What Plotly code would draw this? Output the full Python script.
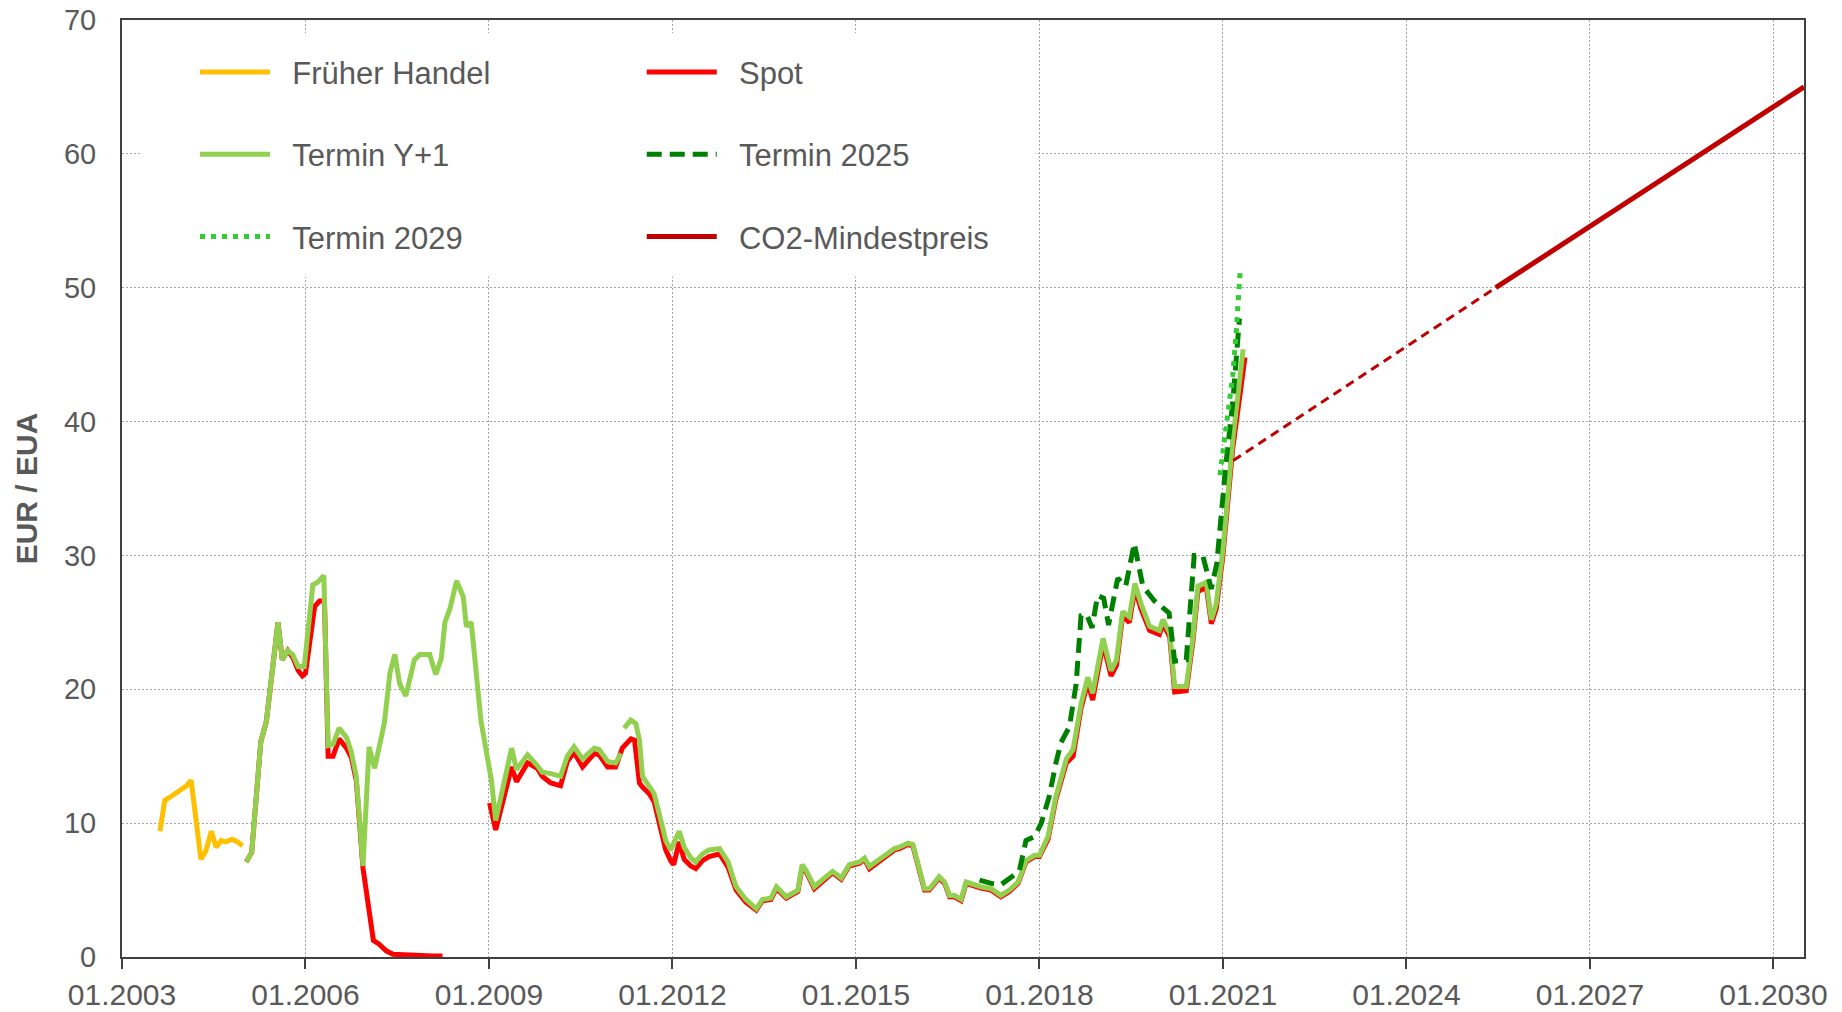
import plotly.graph_objects as go

# ---------------- data (decimal years, EUR/EUA) ----------------
early_x = [2003.62, 2003.70, 2003.77, 2003.99, 2004.06, 2004.13, 2004.21, 2004.29, 2004.37,
           2004.46, 2004.54, 2004.62, 2004.70, 2004.80, 2004.89, 2004.97]
early_y = [9.4, 11.7, 11.9, 12.6, 12.8, 13.2, 10.0, 7.3, 7.9,
           9.4, 8.2, 8.7, 8.6, 8.8, 8.6, 8.3]

yp1_x = [2005.03, 2005.12, 2005.27, 2005.36, 2005.55, 2005.62, 2005.71, 2005.79, 2005.88, 2005.98,
         2006.12, 2006.20, 2006.30, 2006.37, 2006.45, 2006.55, 2006.67, 2006.75, 2006.83, 2006.94,
         2007.04, 2007.13, 2007.29, 2007.38, 2007.46, 2007.54, 2007.64, 2007.78, 2007.87, 2008.03,
         2008.13, 2008.22, 2008.28, 2008.36, 2008.47, 2008.58, 2008.63, 2008.71, 2008.87, 2009.04,
         2009.11, 2009.37, 2009.45, 2009.63, 2009.79, 2009.87, 2010.01, 2010.17, 2010.28, 2010.39,
         2010.53, 2010.72, 2010.80, 2010.94, 2011.07, 2011.16, 2011.185,
         2011.21, 2011.32, 2011.40, 2011.46, 2011.51, 2011.62, 2011.70, 2011.81, 2011.89, 2011.97,
         2012.11, 2012.19, 2012.30, 2012.38, 2012.49, 2012.60, 2012.77, 2012.91, 2013.04, 2013.20,
         2013.37, 2013.47, 2013.61, 2013.70, 2013.86, 2014.05, 2014.12, 2014.18, 2014.32, 2014.51,
         2014.62, 2014.76, 2014.89, 2015.06, 2015.14, 2015.22, 2015.36, 2015.47, 2015.63, 2015.71,
         2015.85, 2015.93, 2016.01, 2016.12, 2016.20, 2016.36, 2016.45, 2016.53, 2016.61, 2016.72,
         2016.80, 2016.91, 2017.04, 2017.21, 2017.37, 2017.51, 2017.65, 2017.78, 2017.92, 2018.00,
         2018.14, 2018.27, 2018.44, 2018.55, 2018.68, 2018.79, 2018.87, 2019.04, 2019.17, 2019.26,
         2019.36, 2019.47, 2019.56, 2019.66, 2019.80, 2019.96, 2020.02, 2020.13, 2020.21, 2020.40,
         2020.51, 2020.59, 2020.73, 2020.81, 2020.89, 2021.00, 2021.16, 2021.33]
yp1_y = [7.1, 7.8, 16.1, 17.6, 25.0, 22.2, 22.9, 22.6, 21.7, 21.7,
         27.8, 28.0, 28.5, 15.8, 15.9, 17.1, 16.4, 15.3, 13.5, 6.8,
         15.7, 14.1, 17.5, 21.2, 22.6, 20.4, 19.5, 22.2, 22.6, 22.6,
         21.1, 22.3, 25.0, 26.0, 28.1, 26.9, 24.7, 25.0, 17.6, 13.2,
         10.2, 15.6, 14.0, 15.1, 14.3, 13.8, 13.7, 13.5, 15.0, 15.7,
         14.8, 15.6, 15.5, 14.6, 14.5, 15.2, None,
         17.1, 17.7, 17.45, 16.2, 13.5, 12.7, 12.2, 10.2, 8.7, 8.0,
         9.4, 8.2, 7.4, 7.1, 7.7, 8.0, 8.1, 7.1, 5.25, 4.3,
         3.6, 4.3, 4.4, 5.25, 4.5, 5.0, 6.9, 6.5, 5.25, 6.0,
         6.4, 5.9, 6.9, 7.1, 7.4, 6.75, 7.2, 7.6, 8.1, 8.2,
         8.5, 8.4, 7.1, 5.1, 5.1, 6.0, 5.6, 4.6, 4.6, 4.3,
         5.6, 5.4, 5.25, 5.1, 4.6, 5.0, 5.6, 7.2, 7.6, 7.6,
         9.0, 12.0, 14.8, 15.5, 18.9, 20.9, 19.7, 23.8, 21.4, 22.2,
         25.8, 25.4, 27.9, 26.4, 24.7, 24.4, 25.2, 24.2, 20.2, 20.2,
         23.9, 27.7, 28.0, 25.2, 26.4, 30.4, 38.6, 45.4]

spot_x = [2005.03, 2005.12, 2005.27, 2005.36, 2005.55, 2005.62, 2005.71, 2005.79, 2005.88, 2005.95,
          2006.00, 2006.15, 2006.23, 2006.31, 2006.37, 2006.45, 2006.55, 2006.67, 2006.75, 2006.83,
          2006.94, 2007.05, 2007.11, 2007.20, 2007.32, 2007.43, 2007.65, 2007.87, 2008.08, 2008.24,
          2008.60,
          2009.01, 2009.11, 2009.37, 2009.45, 2009.63, 2009.79, 2009.87, 2010.01, 2010.17, 2010.28,
          2010.39, 2010.53, 2010.72, 2010.80, 2010.94, 2011.07, 2011.18, 2011.32, 2011.38, 2011.46,
          2011.51, 2011.62, 2011.70, 2011.81, 2011.89, 2011.97, 2012.02, 2012.11, 2012.19, 2012.30,
          2012.38, 2012.49, 2012.60, 2012.77, 2012.91, 2013.04, 2013.20, 2013.37, 2013.47, 2013.61,
          2013.70, 2013.86, 2014.05, 2014.12, 2014.18, 2014.32, 2014.51, 2014.62, 2014.76, 2014.89,
          2015.06, 2015.14, 2015.22, 2015.36, 2015.47, 2015.63, 2015.71, 2015.85, 2015.93, 2016.01,
          2016.12, 2016.20, 2016.36, 2016.45, 2016.53, 2016.61, 2016.72, 2016.80, 2016.91, 2017.04,
          2017.21, 2017.37, 2017.51, 2017.65, 2017.78, 2017.92, 2018.00, 2018.14, 2018.27, 2018.44,
          2018.55, 2018.68, 2018.79, 2018.87, 2019.04, 2019.17, 2019.26, 2019.36, 2019.47, 2019.56,
          2019.66, 2019.80, 2019.96, 2020.02, 2020.13, 2020.21, 2020.40, 2020.51, 2020.59, 2020.73,
          2020.81, 2020.89, 2021.00, 2021.16, 2021.36]
spot_y = [7.1, 7.8, 16.1, 17.6, 25.0, 22.2, 22.9, 22.4, 21.4, 21.0,
          21.2, 26.2, 26.6, 26.6, 15.0, 15.0, 16.3, 15.6, 14.9, 13.2,
          6.65, 3.4, 1.24, 0.98, 0.46, 0.2, 0.13, 0.08, 0.08, 0.08,
          None,
          11.5, 9.5, 14.2, 13.1, 14.5, 14.1, 13.5, 13.0, 12.8, 14.6,
          15.3, 14.2, 15.2, 15.1, 14.2, 14.2, 15.6, 16.3, 16.2, 13.0,
          12.7, 12.2, 11.6, 9.6, 8.0, 7.2, 6.9, 8.6, 7.3, 6.8,
          6.6, 7.2, 7.5, 7.7, 6.7, 5.0, 4.1, 3.5, 4.2, 4.3,
          5.1, 4.4, 4.9, 6.7, 6.4, 5.1, 5.9, 6.3, 5.8, 6.8,
          7.0, 7.3, 6.6, 7.1, 7.5, 8.0, 8.1, 8.4, 8.3, 7.0,
          5.0, 5.0, 5.9, 5.5, 4.5, 4.5, 4.2, 5.5, 5.3, 5.15,
          5.0, 4.5, 4.9, 5.5, 7.1, 7.5, 7.5, 8.8, 11.8, 14.5,
          15.0, 18.6, 20.5, 19.2, 23.4, 21.0, 21.8, 25.5, 25.0, 27.5,
          26.0, 24.4, 24.1, 24.9, 23.9, 19.8, 19.9, 23.6, 27.3, 27.6,
          24.9, 26.0, 30.0, 38.0, 44.8]

t2025_x = [2017.02, 2017.21, 2017.37, 2017.56, 2017.67, 2017.78, 2017.92, 2018.03, 2018.16, 2018.27,
           2018.35, 2018.49, 2018.60, 2018.68, 2018.77, 2018.86, 2018.95, 2019.05, 2019.13, 2019.28,
           2019.41, 2019.55, 2019.69, 2019.88, 2020.12, 2020.21, 2020.40, 2020.53, 2020.67, 2020.81,
           2020.90, 2021.05, 2021.16, 2021.27]
t2025_y = [5.75, 5.5, 5.4, 6.0, 6.4, 8.7, 9.0, 10.0, 12.0, 14.5,
           16.0, 17.2, 20.4, 25.5, 25.6, 24.6, 27.0, 26.8, 24.8, 28.3,
           27.7, 30.9, 27.7, 26.6, 25.7, 22.1, 22.2, 30.0, 30.0, 27.5,
           29.4, 36.9, 41.4, 47.7]

t2029_x = [2020.95, 2021.05, 2021.16, 2021.22, 2021.28]
t2029_y = [36.0, 39.4, 43.4, 46.9, 51.1]

minp_proj_x = [2021.17, 2025.46]
minp_proj_y = [37.1, 50.0]
minp_x = [2025.46, 2030.5]
minp_y = [50.0, 65.0]

tick_years = [2003, 2006, 2009, 2012, 2015, 2018, 2021, 2024, 2027, 2030]
tick_labels = ["01.2003", "01.2006", "01.2009", "01.2012", "01.2015",
               "01.2018", "01.2021", "01.2024", "01.2027", "01.2030"]

# ---------------- figure ----------------
FONT = "Liberation Sans, Arial, sans-serif"
GREY = "#595959"
PAD = "\u00a0\u00a0"

fig = go.Figure()
fig.add_trace(go.Scatter(x=early_x, y=early_y, mode="lines", name=PAD + "Früher Handel",
                         line=dict(color="#FFC000", width=5), legend="legend", legendgroup="a"))
fig.add_trace(go.Scatter(x=spot_x, y=spot_y, mode="lines", name=PAD + "Spot",
                         line=dict(color="#FF0000", width=5), legend="legend2", legendgroup="d"))
fig.add_trace(go.Scatter(x=yp1_x, y=yp1_y, mode="lines", name=PAD + "Termin Y+1",
                         line=dict(color="#92D050", width=5), legend="legend", legendgroup="b"))
fig.add_trace(go.Scatter(x=t2025_x, y=t2025_y, mode="lines", name=PAD + "Termin 2025",
                         line=dict(color="#008000", width=5, dash="15px,8px"),
                         legend="legend2", legendgroup="e"))
fig.add_trace(go.Scatter(x=t2029_x, y=t2029_y, mode="lines", name=PAD + "Termin 2029",
                         line=dict(color="#33CC33", width=5, dash="5px,6px"),
                         legend="legend", legendgroup="c"))
fig.add_trace(go.Scatter(x=minp_proj_x, y=minp_proj_y, mode="lines", showlegend=False,
                         line=dict(color="#C00000", width=3, dash="9px,6px")))
fig.add_trace(go.Scatter(x=minp_x, y=minp_y, mode="lines", name=PAD + "CO2-Mindestpreis",
                         line=dict(color="#C00000", width=5), legend="legend2", legendgroup="f"))

legend_common = dict(xanchor="left", yanchor="top", bgcolor="white", borderwidth=0,
                     font=dict(family=FONT, size=31, color=GREY),
                     itemwidth=70, tracegroupgap=39, traceorder="grouped", orientation="v")

fig.update_layout(
    width=1842, height=1012,
    margin=dict(l=122, r=38, t=20, b=55, autoexpand=False),
    paper_bgcolor="white", plot_bgcolor="white",
    font=dict(family=FONT, size=30, color=GREY),
    legend=dict(x=0.0119, y=0.973, indentation=53, **legend_common),
    legend2=dict(x=0.309, y=0.973, **legend_common),
    # white background panel behind the legend (covers the grid like the original legend box)
    shapes=[dict(type="rect", xref="paper", yref="paper", x0=0.0119, x1=0.543,
                 y0=0.726, y1=0.986, fillcolor="white", line=dict(width=0), layer="above")],
    xaxis=dict(range=[2003, 2030.5], tickmode="array", tickvals=tick_years, ticktext=tick_labels,
               ticks="outside", ticklen=10, tickwidth=2, tickcolor="#404040",
               showline=True, linecolor="#404040", linewidth=2, mirror=True, automargin=False,
               showgrid=True, gridcolor="#A6A6A6", gridwidth=1, griddash="2px,2px",
               zeroline=False, tickfont=dict(family=FONT, size=30, color=GREY)),
    yaxis=dict(range=[0, 70], dtick=10, ticks="", ticklabelstandoff=18, automargin=False,
               showline=True, linecolor="#404040", linewidth=2, mirror=True,
               showgrid=True, gridcolor="#A6A6A6", gridwidth=1, griddash="2px,2px",
               zeroline=False, tickfont=dict(family=FONT, size=29, color=GREY),
               title=dict(text="<b>EUR / EUA</b>", standoff=17,
                          font=dict(family=FONT, size=30, color=GREY))),
)

fig.write_html("out.html", config={"displayModeBar": False},
               post_script="document.body.style.margin='0';")
